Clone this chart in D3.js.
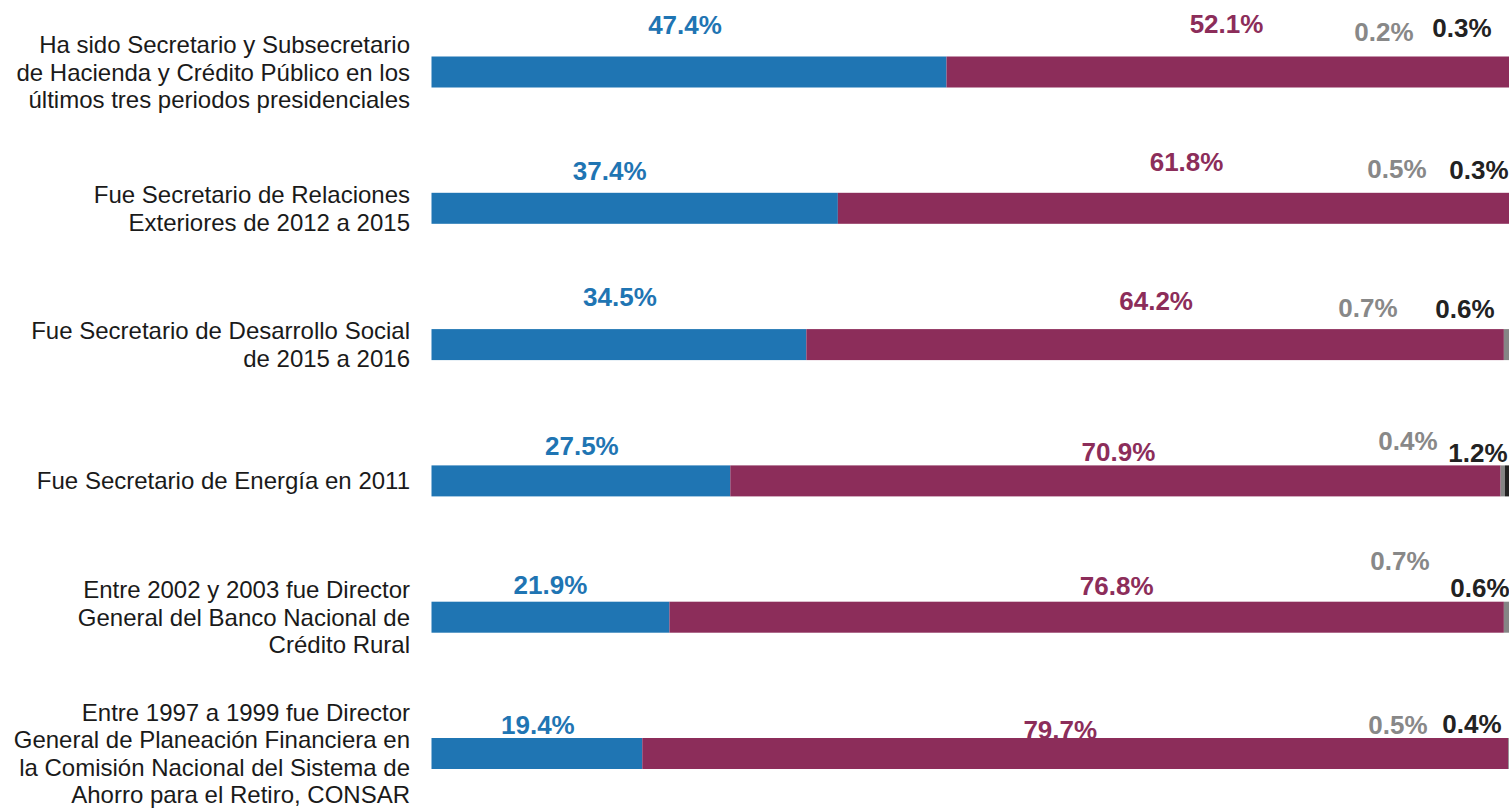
<!DOCTYPE html>
<html>
<head>
<meta charset="utf-8">
<script src="https://cdn.jsdelivr.net/npm/d3@7"></script>
<style>
  html, body { margin: 0; padding: 0; background: #fff; overflow: hidden; }
  svg { display: block; }
</style>
</head>
<body>
<svg id="chart" width="1509" height="809"></svg>
<script>
// ---------- DATA ----------
const categories = [
  ["Ha sido Secretario y Subsecretario", "de Hacienda y Crédito Público en los", "últimos tres periodos presidenciales"],
  ["Fue Secretario de Relaciones", "Exteriores de 2012 a 2015"],
  ["Fue Secretario de Desarrollo Social", "de 2015 a 2016"],
  ["Fue Secretario de Energía en 2011"],
  ["Entre 2002 y 2003 fue Director", "General del Banco Nacional de", "Crédito Rural"],
  ["Entre 1997 a 1999 fue Director", "General de Planeación Financiera en", "la Comisión Nacional del Sistema de", "Ahorro para el Retiro, CONSAR"]
];
const seriesA = [47.4, 37.4, 34.5, 27.5, 21.9, 19.4]; // blue
const seriesB = [52.1, 61.8, 64.2, 70.9, 76.8, 79.7]; // maroon
const seriesC = [0.2, 0.5, 0.7, 0.4, 0.7, 0.5];       // gray
const seriesD = [0.3, 0.3, 0.6, 1.2, 0.6, 0.4];       // dark
const seriesKeys = ["a", "b", "c", "d"];

// ---------- LAYOUT (not data) ----------
const colors = { a: "#1f75b3", b: "#8c2d5a", c: "#858585", d: "#222222" };
const labelColors = { a: "#1f75b3", b: "#8c2d5a", c: "#888888", d: "#222222" };
// label nudges per row: [dx, baseline offset from bar top] for each series
// blue/maroon dx relative to segment centre; gray/dark dx relative to 1509 edge
const labelNudge = [
  { a: [-4, -23], b: [-3, -24], c: [-125, -16], d: [-47, -20] },
  { a: [-25, -13], b: [13, -22], c: [-112, -15], d: [-30, -14] },
  { a: [1, -23], b: [1, -19], c: [-141, -12], d: [-44, -11] },
  { a: [1, -10], b: [3, -4], c: [-101, -15], d: [-31, -3] },
  { a: [0, -8], b: [30, -7], c: [-109, -32], d: [-29, -5] },
  { a: [1, -4], b: [-15, 1], c: [-111, -4], d: [-37, -5] }
];

const svg = d3.select("#chart");
const rows = categories.map((c, i) => ({
  i, lines: c, a: seriesA[i], b: seriesB[i], c: seriesC[i], d: seriesD[i]
}));

const x = d3.scaleLinear().domain([0, 100]).range([431.5, 1518]);
const y = d3.scalePoint().domain(d3.range(rows.length)).range([72, 753.5]);
const barH = 31;
const edgeX = 1509;

const stack = d3.stack().keys(seriesKeys)(rows);

// bars
const layers = svg.append("g").selectAll("g")
  .data(stack).join("g")
  .attr("fill", d => colors[d.key]);

layers.selectAll("rect")
  .data(d => d.map(v => ({ v, key: d.key })))
  .join("rect")
  .attr("x", d => x(d.v[0]))
  .attr("width", d => x(d.v[1]) - x(d.v[0]))
  .attr("y", d => y(d.v.data.i) - barH / 2)
  .attr("height", barH);

// value labels
const labels = [];
stack.forEach(layer => {
  layer.forEach(v => {
    const i = v.data.i;
    const key = layer.key;
    const nud = labelNudge[i][key];
    let cx;
    if (key === "a" || key === "b") cx = (x(v[0]) + x(v[1])) / 2 + nud[0];
    else cx = edgeX + nud[0];
    labels.push({ key, cx, yb: y(i) - barH / 2 + nud[1], text: d3.format(".1f")(v.data[key]) + "%" });
  });
});

svg.append("g").selectAll("text")
  .data(labels).join("text")
  .attr("x", d => d.cx)
  .attr("y", d => d.yb)
  .attr("text-anchor", "middle")
  .attr("font-family", "'Liberation Sans', Arial, Helvetica, sans-serif")
  .attr("font-weight", "bold")
  .attr("font-size", 26)
  .attr("fill", d => labelColors[d.key])
  .text(d => d.text);

// category labels
const lineH = 27.5;
const cat = svg.append("g").selectAll("text")
  .data(rows).join("text")
  .attr("text-anchor", "end")
  .attr("font-family", "'Liberation Sans', Arial, Helvetica, sans-serif")
  .attr("font-size", 24)
  .attr("fill", "#1a1a1a");

cat.each(function(d) {
  const n = d.lines.length;
  const firstBaseline = y(d.i) - (n - 1) * lineH / 2 + 8.5;
  d3.select(this).selectAll("tspan")
    .data(d.lines).join("tspan")
    .attr("x", 410)
    .attr("y", (l, k) => firstBaseline + k * lineH)
    .text(l => l);
});
</script>
</body>
</html>
